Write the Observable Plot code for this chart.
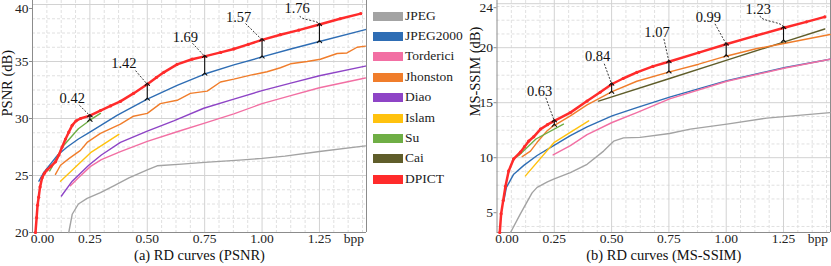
<!DOCTYPE html>
<html><head><meta charset="utf-8">
<script src="https://cdn.jsdelivr.net/npm/d3@7"></script>
<script src="https://cdn.jsdelivr.net/npm/@observablehq/plot@0.6"></script>
<style>
html,body{margin:0;padding:0;background:#fff;}
#wrap{position:relative;width:831px;height:266px;overflow:hidden;font-family:"Liberation Serif","Times New Roman",serif;}
#wrap svg{position:absolute;top:0;overflow:visible;}
.sw{position:absolute;left:373px;width:30px;height:9px;}
.lt{position:absolute;left:405px;font-size:13.5px;line-height:16px;color:#222;}
</style></head><body><div id="wrap"></div>
<script>
// ---------- data ----------
const methodNames  = ["JPEG","JPEG2000","Torderici","Jhonston","Diao","Islam","Su","Cai","DPICT"];
const methodColors = ["#a3a3a3","#2e6db4","#f26fa3","#f07d2b","#8e44c6","#ffc20e","#6fae45","#5f5d2a","#ff2b2b"];

const majorX = [0, 0.25, 0.5, 0.75, 1.0, 1.25];
const psnrTicks = [20, 25, 30, 35, 40];
const msTicks = [5, 10, 15, 20, 24];

// PSNR (dB) curves: [bpp, value]
const jpegPsnr = [[0.158,20.0],[0.173,21.6],[0.2,22.5],[0.238,23.0],[0.296,23.5],[0.354,24.1],[0.42,24.8],[0.5,25.5],[0.543,25.85],[0.65,26.0],[0.75,26.15],[0.9,26.35],[1.0,26.5],[1.1,26.7],[1.25,27.1],[1.45,27.6]];
const j2kPsnr = [[0.028,24.5],[0.05,25.3],[0.078,26.0],[0.11,26.8],[0.151,27.5],[0.2,28.2],[0.25,28.8],[0.37,30.3],[0.5,31.7],[0.63,32.9],[0.75,33.9],[0.877,34.7],[1.0,35.4],[1.125,36.1],[1.25,36.75],[1.45,37.8]];
const tordPsnr = [[0.165,24.1],[0.2,24.8],[0.253,25.8],[0.3,26.4],[0.383,27.1],[0.5,28.0],[0.64,28.9],[0.75,29.6],[0.877,30.4],[1.0,31.3],[1.125,32.0],[1.25,32.7],[1.45,33.55]];
const jhonPsnr = [[0.1,25.1],[0.122,25.9],[0.16,26.5],[0.209,27.2],[0.238,27.9],[0.296,28.7],[0.383,29.5],[0.44,30.2],[0.5,30.45],[0.557,31.3],[0.63,31.6],[0.688,32.2],[0.761,32.4],[0.819,33.2],[0.877,33.45],[0.95,33.8],[1.022,34.1],[1.08,34.45],[1.124,34.8],[1.196,35.0],[1.254,35.2],[1.327,35.7],[1.37,35.75],[1.414,36.25],[1.45,36.35]];
const diaoPsnr = [[0.126,23.2],[0.173,24.5],[0.245,25.9],[0.3,26.8],[0.383,27.9],[0.5,28.9],[0.615,29.8],[0.746,30.9],[0.877,31.7],[1.0,32.45],[1.125,33.1],[1.25,33.75],[1.45,34.6]];
const islamPsnr = [[0.122,24.5],[0.253,27.0],[0.376,28.6]];
const suPsnr = [[0.075,25.4],[0.1,26.3],[0.13,27.5],[0.2,29.1],[0.25,29.85],[0.296,30.45]];
const dpictPsnr = [[0.013,20.0],[0.018,21.3],[0.022,22.4],[0.027,23.1],[0.033,24.0],[0.042,24.8],[0.052,25.2],[0.064,25.5],[0.08,25.8],[0.1,26.2],[0.115,26.8],[0.129,27.5],[0.144,28.2],[0.158,28.8],[0.173,29.4],[0.19,29.8],[0.209,30.0],[0.25,30.25],[0.296,30.7],[0.34,31.1],[0.383,31.5],[0.44,32.2],[0.5,33.0],[0.54,33.6],[0.572,34.05],[0.63,34.75],[0.695,35.2],[0.75,35.45],[0.82,35.8],[0.877,36.1],[0.94,36.5],[1.0,36.9],[1.08,37.35],[1.16,37.75],[1.25,38.25],[1.34,38.75],[1.43,39.2]];

// MS-SSIM (dB) curves
const jpegMs = [[0.059,3.2],[0.102,4.9],[0.153,6.8],[0.175,7.3],[0.22,7.8],[0.247,8.05],[0.32,8.65],[0.393,9.4],[0.465,10.6],[0.509,11.5],[0.552,11.8],[0.625,11.85],[0.753,12.2],[0.843,12.6],[1.003,13.05],[1.177,13.6],[1.453,14.1]];
const j2kMs = [[0.03,6.1],[0.041,7.3],[0.073,8.5],[0.117,9.3],[0.175,10.2],[0.247,11.1],[0.32,12.0],[0.393,12.8],[0.502,13.8],[0.61,14.55],[0.753,15.5],[1.003,17.0],[1.257,18.2],[1.453,18.95]];
const tordMs = [[0.245,10.25],[0.32,11.1],[0.393,12.1],[0.502,13.2],[0.61,14.1],[0.753,15.35],[1.003,16.95],[1.257,18.15],[1.453,18.95]];
const jhonMs = [[0.11,10.1],[0.146,10.6],[0.175,11.4],[0.219,12.45],[0.247,12.9],[0.32,13.8],[0.393,14.8],[0.502,16.0],[0.61,16.95],[0.753,17.8],[0.88,18.5],[1.003,19.25],[1.13,19.9],[1.257,20.4],[1.453,21.2]];
const islamMs = [[0.124,8.35],[0.25,11.4],[0.4,13.35]];
const suMs = [[0.07,9.9],[0.095,10.2],[0.17,11.7],[0.29,13.05]];
const caiMs = [[0.443,15.15],[0.753,17.2],[1.003,18.87],[1.257,20.55],[1.43,21.7]];
const dpictMs = [[0.012,3.2],[0.018,4.9],[0.027,6.1],[0.037,7.4],[0.051,8.8],[0.073,9.9],[0.102,10.5],[0.12,11.0],[0.138,11.5],[0.16,11.9],[0.19,12.6],[0.22,13.0],[0.25,13.35],[0.32,14.1],[0.393,15.15],[0.45,15.95],[0.502,16.7],[0.55,17.2],[0.61,17.75],[0.68,18.3],[0.753,18.75],[0.88,19.55],[1.003,20.33],[1.13,21.1],[1.257,21.84],[1.35,22.35],[1.43,22.8]];

// annotations
const annBpp = [0.25, 0.5, 0.75, 1.0, 1.25];
const psnrAnnText = ["0.42","1.42","1.69","1.57","1.76"];
const psnrAnnTop = [30.25, 33.0, 35.45, 36.9, 38.25];
const psnrAnnBottom = [29.85, 31.7, 33.9, 35.4, 36.75];
const psnrTextX = [0.173, 0.398, 0.666, 0.898, 1.153];
const psnrTextY = [31.73, 34.85, 37.13, 38.89, 39.62];
const psnrLeadX = [0.205, 0.449, 0.697, 0.928, 1.165];
const psnrLeadY = [31.15, 34.2, 36.6, 38.33, 39.0];

const msAnnText = ["0.63","0.84","1.07","0.99","1.23"];
const msAnnTop = [13.35, 16.7, 18.75, 20.33, 21.84];
const msAnnBottom = [12.95, 15.95, 17.8, 19.26, 20.6];
const msTextX = [0.186, 0.439, 0.698, 0.922, 1.14];
const msTextY = [16.02, 19.17, 21.38, 22.8, 23.5];
const msLeadX = [0.213, 0.468, 0.728, 0.951, 1.148];
const msLeadY = [15.45, 18.54, 20.8, 22.17, 22.9];

// ---------- build ----------
const xMax = 1.455;
const minorX = d3.range(0, 1.46, 0.0625).filter(v => Math.abs(v / 0.25 - Math.round(v / 0.25)) > 1e-6);
const toRows = series => series.flatMap(([m, pts]) => pts.map(([b, v]) => ({method: m, bpp: b, v})));
const toPts = pts => pts.map(([b, v]) => ({bpp: b, v}));
const toAnn = (text, top, bottom, tx, ty, lx, ly) => annBpp.map((b, i) => ({bpp: b, label: text[i], top: top[i], bottom: bottom[i], tx: tx[i], ty: ty[i], lx: lx[i], ly: ly[i]}));

const psnrRows = toRows([["JPEG", jpegPsnr], ["Torderici", tordPsnr], ["Diao", diaoPsnr], ["Jhonston", jhonPsnr], ["JPEG2000", j2kPsnr], ["Islam", islamPsnr], ["Su", suPsnr]]);
const msRows = toRows([["JPEG", jpegMs], ["JPEG2000", j2kMs], ["Torderici", tordMs], ["Islam", islamMs], ["Cai", caiMs], ["Jhonston", jhonMs], ["Su", suMs]]);
const red = methodColors[methodNames.indexOf("DPICT")];

function panel({rows, dpict, yDomain, yTicks, yMinor, ann, ylabel, ylabelDx, caption, width, marginLeft, marginRight}) {
  const fmt = d3.format(".2f");
  const font = "'Liberation Serif', 'Times New Roman', serif";
  return Plot.plot({
    width, height: 266, marginLeft, marginRight, marginTop: 0, marginBottom: 34,
    x: {domain: [0, xMax]},
    y: {domain: yDomain},
    color: {domain: methodNames, range: methodColors},
    style: {fontFamily: font, fontSize: "13.5px", color: "#222", background: "transparent", overflow: "visible"},
    marks: [
      Plot.gridX(minorX, {stroke: "#e0e0e0", strokeOpacity: 1, strokeDasharray: "3,2"}),
      Plot.gridY(yMinor, {stroke: "#e0e0e0", strokeOpacity: 1, strokeDasharray: "3,2"}),
      Plot.gridX(majorX.slice(1), {stroke: "#d2d2d2", strokeOpacity: 1}),
      Plot.gridY(yTicks.slice(1), {stroke: "#d2d2d2", strokeOpacity: 1}),
      Plot.ruleX([0, xMax], {stroke: "#8c8c8c"}),
      Plot.ruleY([yDomain[0]], {stroke: "#8c8c8c"}),
      Plot.axisY(yTicks.slice(0, -1), {tickSize: 3, tickPadding: 1, label: null, stroke: "#8c8c8c"}),
      Plot.axisY(yTicks.slice(-1), {tickSize: 3, tickPadding: 1, label: null, stroke: "#8c8c8c", dy: 4}),
      Plot.axisX([0], {tickSize: 0, tickPadding: 1, dx: 10, label: null, tickFormat: fmt}),
      Plot.axisX(majorX.slice(1), {tickSize: 0, tickPadding: 1, label: null, tickFormat: fmt}),
      Plot.axisX([1.4], {tickSize: 0, tickPadding: 1, label: null, tickFormat: () => "bpp"}),
      Plot.line(rows, {x: "bpp", y: "v", z: "method", stroke: "method", strokeWidth: 1.4}),
      Plot.line(toPts(dpict), {x: "bpp", y: "v", stroke: red, strokeWidth: 2.5}),
      Plot.dot(toPts(dpict), {x: "bpp", y: "v", r: 1.6, fill: red}),
      Plot.link(ann, {x1: "bpp", x2: "bpp", y1: "bottom", y2: "top", stroke: "#111", strokeWidth: 1.1, markerStart: "arrow", markerEnd: "arrow"}),
      Plot.link(ann.slice(0, 4), {x1: "lx", y1: "ly", x2: "bpp", y2: "top", stroke: "#222", strokeWidth: 0.9, strokeDasharray: "2,1.5"}),
      Plot.link(ann.slice(4), {x1: "lx", y1: "ly", x2: "bpp", y2: "top", stroke: "#222", strokeWidth: 0.9, strokeDasharray: "2,1.5", curve: "bump-y"}),
      Plot.text(ann, {x: "tx", y: "ty", text: "label", fontSize: 14.5, fill: "#111"}),
      Plot.text([ylabel], {frameAnchor: "left", rotate: -90, dx: ylabelDx, fontSize: 14.5, fill: "#111"}),
      Plot.text([caption], {frameAnchor: "bottom", dy: 27, fontSize: 14.5, fill: "#111"})
    ]
  });
}

const wrap = document.getElementById("wrap");

const a = panel({
  rows: psnrRows, dpict: dpictPsnr, yDomain: [20, 20 + 232 / 11.4], yTicks: psnrTicks,
  yMinor: d3.range(21.25, 40.1, 1.25).filter(v => v % 5 !== 0),
  ann: toAnn(psnrAnnText, psnrAnnTop, psnrAnnBottom, psnrTextX, psnrTextY, psnrLeadX, psnrLeadY),
  ylabel: "PSNR (dB)", ylabelDx: -25, caption: "(a) RD curves (PSNR)",
  width: 370, marginLeft: 32, marginRight: 4
});
a.style.left = "0px";
wrap.appendChild(a);

const b = panel({
  rows: msRows, dpict: dpictMs, yDomain: [3.2, 3.2 + 232 / 11], yTicks: msTicks,
  yMinor: d3.range(3.75, 24.1, 1.25).filter(v => v % 5 !== 0),
  ann: toAnn(msAnnText, msAnnTop, msAnnBottom, msTextX, msTextY, msLeadX, msLeadY),
  ylabel: "MS-SSIM (dB)", ylabelDx: -21.5, caption: "(b) RD curves (MS-SSIM)",
  width: 391, marginLeft: 56.5, marginRight: 1
});
b.style.left = "440px";
wrap.appendChild(b);

// legend
methodNames.forEach((m, i) => {
  const y = 16 + i * 20.4;
  const sw = document.createElement("div");
  sw.className = "sw";
  sw.style.top = (y - 4.5) + "px";
  sw.style.background = methodColors[i];
  wrap.appendChild(sw);
  const t = document.createElement("div");
  t.className = "lt";
  t.style.top = (y - 8.5) + "px";
  t.textContent = m;
  wrap.appendChild(t);
});
</script></body></html>
